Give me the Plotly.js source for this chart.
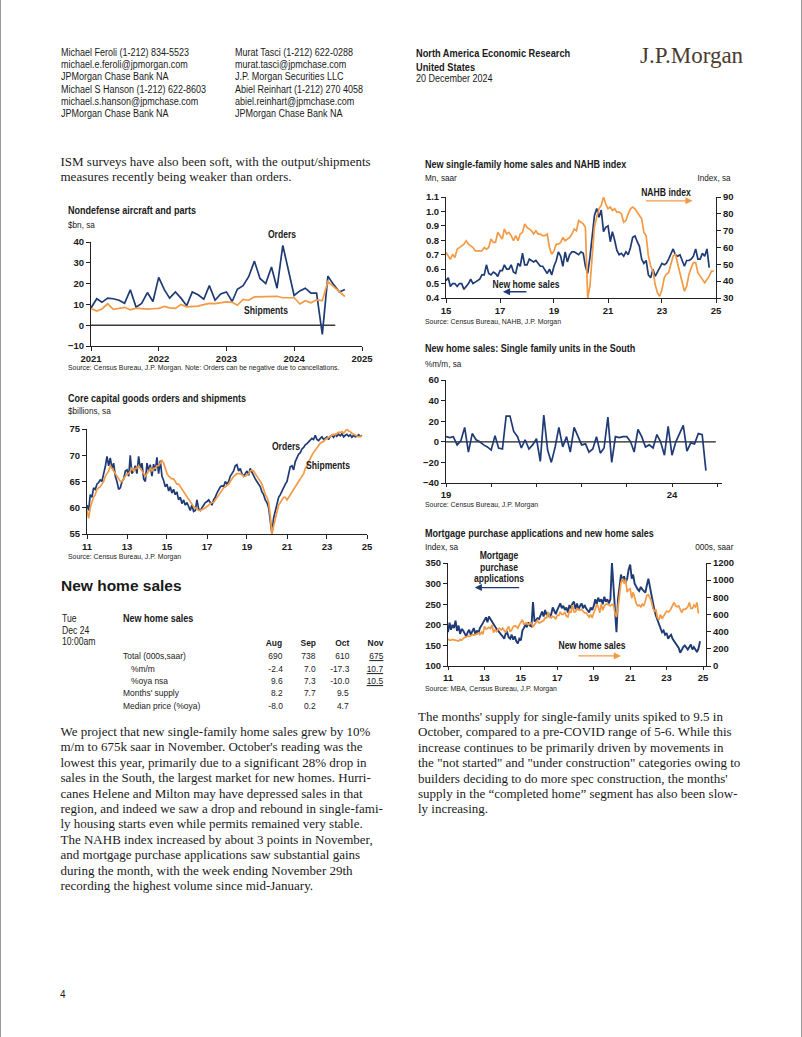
<!DOCTYPE html>
<html><head><meta charset="utf-8">
<script src="https://cdn.plot.ly/plotly-3.0.1.min.js"></script>
<style>
body{margin:0;background:#fff;}
#page{position:relative;width:802px;height:1037px;overflow:hidden;background:#fff;}
.t{position:absolute;white-space:nowrap;line-height:1;color:#1a1a1a;}
.edge{position:absolute;top:0;width:1px;height:1037px;background:#9a9a9a;}
</style></head><body><div id="page"><div class="edge" style="left:0"></div><div class="edge" style="left:801px"></div></div>
<script>
// ---------------- DATA ----------------
const aircraftOrders = [8.3,12.7,11.0,13.0,12.7,12.0,10.5,17.0,8.7,10.5,15.7,11.4,
 23.0,17.0,13.0,16.0,13.0,9.4,16.0,14.6,12.5,19.0,12.0,15.0,
 16.0,11.4,17.3,19.0,23.3,30.8,22.5,20.0,28.0,17.8,38.4,26.0,
 14.3,16.5,17.8,15.4,15.4,-4.4,23.6,19.5,16.0,17.2];
const aircraftShipments = [8.0,6.8,7.8,10.3,7.6,8.3,8.6,7.4,8.2,8.0,7.7,7.9,
 8.1,9.0,8.3,8.1,10.0,8.8,8.9,9.2,9.9,10.5,10.4,10.8,
 11.2,11.0,9.6,12.4,12.0,13.6,13.6,13.7,13.6,13.9,13.2,13.3,
 13.2,10.2,11.8,10.8,12.2,11.8,21.0,18.5,16.0,13.8];

const coreOrders = [
 60.5,59.5,62.5,62.0,63.8,63.5,64.5,64.8,65.3,65.0,66.5,67.8,
 69.8,68.0,69.5,67.5,68.5,66.0,65.0,63.5,63.8,65.0,65.5,67.0,
 67.2,66.0,70.0,66.5,67.0,68.0,66.5,69.8,67.5,68.5,65.5,65.0,
 68.5,67.0,68.2,66.0,68.3,67.0,69.6,66.5,69.0,66.0,65.2,64.0,
 64.5,63.2,64.0,62.8,63.5,62.5,63.0,61.5,62.0,60.8,61.5,60.5,
 61.0,60.0,59.5,60.5,59.3,59.5,61.5,59.8,59.5,60.0,60.5,61.0,
 61.2,61.5,61.0,60.5,61.5,62.0,62.8,63.5,64.0,64.2,64.0,65.0,
 64.5,65.0,66.0,66.5,67.0,68.0,68.2,67.0,67.5,66.5,66.0,66.5,
 67.0,66.2,67.5,66.8,66.0,65.5,65.0,64.5,64.0,63.0,62.5,61.5,
 61.0,60.0,57.5,55.0,58.0,59.5,61.0,62.0,62.5,63.2,64.0,64.5,
 65.0,66.5,67.8,68.0,67.2,68.8,69.5,70.2,70.5,71.2,71.5,72.0,
 72.2,72.5,72.8,73.2,73.0,73.8,73.0,72.8,73.2,73.5,73.0,73.2,
 73.5,73.0,73.6,73.8,73.4,73.9,73.6,74.0,73.7,74.1,73.5,73.8,
 74.0,73.6,73.9,73.4,73.8,73.5,73.6,73.9,73.6,73.8];
const coreShipments = [
 59.5,58.0,60.0,61.0,62.0,62.5,63.5,63.8,64.0,64.5,65.0,66.0,
 66.5,67.0,68.0,67.5,67.0,66.5,66.0,65.5,65.0,65.0,65.5,66.0,
 66.5,66.5,67.0,67.5,67.0,67.5,67.5,68.0,67.5,67.0,66.5,66.0,
 66.5,67.0,67.5,67.0,67.5,67.5,68.0,68.0,68.5,69.0,68.5,67.5,
 66.5,66.0,65.8,65.5,65.5,65.0,64.5,64.5,64.0,63.5,63.0,62.5,
 62.0,61.5,61.0,60.5,60.2,60.0,59.8,59.5,59.5,59.6,59.8,60.0,
 60.2,60.5,60.8,61.0,61.0,61.5,62.0,62.5,63.0,63.5,63.8,64.0,
 64.2,64.5,65.0,65.5,66.0,66.2,66.5,66.5,66.5,66.3,66.0,66.0,
 66.2,66.5,67.0,67.2,67.0,66.5,66.0,65.5,65.0,64.5,63.5,62.5,
 62.0,61.0,58.5,55.0,56.5,58.0,59.5,60.5,61.0,61.5,62.0,62.0,
 61.5,62.0,62.5,63.0,63.5,64.0,64.5,65.0,65.5,66.0,66.5,67.5,
 68.0,68.8,69.5,70.0,70.5,71.0,71.5,72.0,72.3,72.5,72.6,73.0,
 73.2,73.5,73.6,73.8,74.0,73.9,74.2,74.4,74.3,74.5,74.2,74.6,
 75.0,74.6,74.5,74.2,74.0,73.8,73.6,73.5,73.6,73.7];

// New home sales, 000s saar, monthly from Jan 2011
const homeSales = [
 315,300,300,310,305,300,295,290,310,300,320,335,
 335,350,345,350,365,360,365,370,385,365,395,370,
 460,430,440,450,435,480,390,420,400,430,440,420,
 440,420,390,430,460,400,420,460,470,460,440,480,
 520,540,480,500,500,480,500,500,460,480,500,530,
 500,510,520,530,560,560,630,570,560,580,570,550,
 590,590,630,600,600,630,580,570,640,620,710,630,
 630,670,660,650,660,640,620,620,590,570,600,560,
 620,660,720,690,620,720,650,700,720,720,710,700,
 720,710,620,570,680,830,970,1020,960,1010,860,890,
 900,790,860,800,730,700,710,690,720,700,750,820,
 830,790,760,670,640,660,560,540,600,550,580,620,
 640,630,640,670,700,740,700,690,700,660,620,660,
 660,670,690,740,670,670,710,690,740,610];
// NAHB index, monthly from Jan 2015
const nahbIndex = [
 57,55,53,56,54,59,60,61,62,64,62,61,
 60,58,58,58,58,60,59,60,65,63,63,69,
 67,65,71,68,69,67,64,67,64,68,69,74,
 72,71,70,68,70,68,68,67,67,68,60,56,
 58,62,62,63,66,64,65,66,68,71,70,76,
 75,74,72,30,37,58,72,78,83,85,90,86,
 83,84,82,83,81,81,80,75,76,80,83,84,
 83,81,79,77,69,67,55,49,46,38,33,31,
 35,42,44,45,50,55,56,50,45,40,34,37,
 44,48,51,51,45,43,41,39,41,43,46,46];
// South single-family new home sales, %m/m, monthly from Jan 2019
const southMoM = [5,4,5,-3,1,14,-10,8,2,0,-3,-5,-8,6,-6,-7,25,25,10,5,
 -6,2,-7,-3,3,-19,26,-8,-20,-5,14,-5,5,-10,14,5,-3,-2,-10,-7,
 5,-11,-6,24,-20,5,4,5,5,0,-10,12,5,-5,-3,-6,7,0,-13,15,
 -13,0,8,16,-9,-1,-2,8,7,-28];
// MBA purchase index, from Jan 2011
const mortgageApps = [
 182,205,188,200,192,210,185,198,178,190,186,178,
 172,182,188,176,184,192,178,186,180,192,198,205,
 212,218,206,220,214,208,200,196,190,186,180,176,
 172,166,178,182,170,166,176,164,172,160,155,166,
 162,186,192,200,194,206,198,196,255,208,212,216,
 214,226,232,220,236,224,230,218,226,242,232,226,
 236,244,252,240,246,236,242,230,248,240,252,256,
 238,252,236,246,252,240,248,240,234,230,242,236,
 246,262,250,266,256,262,250,268,256,262,252,262,
 350,290,232,182,262,300,322,306,318,302,312,334,
 346,312,322,300,292,286,282,292,286,282,278,296,
 312,292,272,260,236,222,212,200,190,182,186,176,
 180,166,172,176,166,160,156,150,144,132,140,146,
 150,146,140,146,152,140,146,140,134,142,160];

const tableCols = ['Aug','Sep','Oct','Nov'];
const tableRows = [
 {label:'Total (000s,saar)', indent:false, vals:['690','738','610','675']},
 {label:'%m/m', indent:true, vals:['-2.4','7.0','-17.3','10.7']},
 {label:'%oya nsa', indent:true, vals:['9.6','7.3','-10.0','10.5']},
 {label:"Months' supply", indent:false, vals:['8.2','7.7','9.5','']},
 {label:'Median price (%oya)', indent:false, vals:['-8.0','0.2','4.7','']}
];

// ---------------- STYLE ----------------
const SANS = "'Liberation Sans',Arial,sans-serif";
const SERIF = "'Liberation Serif','Times New Roman',serif";
const BLUE = '#1f3b75', ORANGE = '#f39a45', INK = '#1a1a1a';
const NARROW = 0.86;
const page = document.getElementById('page');

// x,y = anchor point in page px (y = text middle). o.align: left|right|center; o.sx: horizontal condense
function T(x, y, s, o) {
  o = o || {};
  const d = document.createElement('div');
  d.className = 't';
  d.textContent = s;
  const sx = o.sx || 1, al = o.align || 'left';
  d.style.top = y + 'px';
  if (al === 'right') {
    d.style.right = (802 - x) + 'px';
    d.style.transformOrigin = 'right center';
    d.style.transform = `translateY(-50%) scaleX(${sx})`;
  } else if (al === 'center') {
    d.style.left = x + 'px';
    d.style.transformOrigin = 'center center';
    d.style.transform = `translate(-50%,-50%) scaleX(${sx})`;
  } else {
    d.style.left = x + 'px';
    d.style.transformOrigin = 'left center';
    d.style.transform = `translateY(-50%) scaleX(${sx})`;
  }
  d.style.fontFamily = o.family || SANS;
  d.style.fontSize = (o.size || 10) + 'px';
  if (o.bold) d.style.fontWeight = 'bold';
  if (o.color) d.style.color = o.color;
  if (o.underline) d.style.textDecoration = 'underline';
  page.appendChild(d);
  return d;
}
const N = (x, y, s, o) => T(x, y, s, Object.assign({sx: NARROW}, o || {}));

function monthDates(y, m, n) {
  const out = [];
  for (let i = 0; i < n; i++) {
    const k = m - 1 + i;
    out.push((y + Math.floor(k / 12)) + '-' + String(k % 12 + 1).padStart(2, '0') + '-01');
  }
  return out;
}
function yearTicks(y0, y1, step, fmt) {
  const v = [], t = [];
  for (let y = y0; y <= y1; y += step) { v.push(y + '-01-01'); t.push(fmt(y)); }
  return {v, t};
}

const tickFont = {family: SANS, size: 9.5, color: INK, weight: 'bold'};
function axis(extra) {
  return Object.assign({showline: true, linecolor: '#222', linewidth: 1, ticks: 'outside', ticklen: 4,
    tickcolor: '#222', tickwidth: 1, showgrid: false, zeroline: false, tickfont: tickFont, fixedrange: true}, extra);
}

function makeChart(box, m, traces, axes, arrows, shapes) {
  const div = document.createElement('div');
  div.style.cssText = `position:absolute;left:${box.x}px;top:${box.y}px;width:${box.w}px;height:${box.h}px;`;
  page.appendChild(div);
  const pw = box.w - m.l - m.r, ph = box.h - m.t - m.b;
  const px = X => (X - box.x - m.l) / pw, py = Y => 1 - (Y - box.y - m.t) / ph;
  const anns = (arrows || []).map(a => ({xref: 'paper', yref: 'paper', x: px(a.hx), y: py(a.hy),
    ax: a.tx - a.hx, ay: a.ty - a.hy, text: '', showarrow: true, arrowhead: 2, arrowsize: 1.1,
    arrowwidth: 1.3, arrowcolor: a.color}));
  const layout = Object.assign({width: box.w, height: box.h, margin: {l: m.l, r: m.r, t: m.t, b: m.b, pad: 0},
    paper_bgcolor: 'rgba(0,0,0,0)', plot_bgcolor: 'rgba(0,0,0,0)', showlegend: false,
    annotations: anns, shapes: shapes || []}, axes);
  Plotly.newPlot(div, traces, layout, {staticPlot: true, displayModeBar: false});
}
const line = (x, y, color, extra) => Object.assign({type: 'scatter', mode: 'lines', x, y,
  line: {color, width: 1.7}, hoverinfo: 'skip'}, extra || {});
function chartTexts(title, unit, source, tx, ty, uy, sy, rightUnit) {
  N(tx, ty, title, {size: 10.5, bold: true});
  N(tx, uy, unit, {size: 9.5});
  if (rightUnit) N(rightUnit.x, uy, rightUnit.text, {size: 9.5, align: 'right'});
  N(tx, sy, source, {size: 8});
}
const label = (x, y, s) => N(x, y, s, {size: 10, bold: true, align: 'center'});

// ---------------- HEADER ----------------
const hdr1 = ['Michael Feroli  (1-212) 834-5523','michael.e.feroli@jpmorgan.com','JPMorgan Chase Bank NA',
  'Michael S Hanson  (1-212) 622-8603','michael.s.hanson@jpmchase.com','JPMorgan Chase Bank NA'];
const hdr2 = ['Murat Tasci  (1-212) 622-0288','murat.tasci@jpmchase.com','J.P. Morgan Securities LLC',
  'Abiel Reinhart  (1-212) 270 4058','abiel.reinhart@jpmchase.com','JPMorgan Chase Bank NA'];
const hdrY = [53, 65, 77, 90, 102, 114];
hdr1.forEach((s, i) => T(61, hdrY[i], s, {size: 10, sx: 0.9}));
hdr2.forEach((s, i) => T(235, hdrY[i], s, {size: 10, sx: 0.9}));
T(416, 53, 'North America Economic Research', {size: 10.5, bold: true, sx: 0.88});
T(416, 67, 'United States', {size: 10.5, bold: true, sx: 0.88});
T(416, 79, '20 December 2024', {size: 10, sx: 0.9});
T(640, 55, 'J.P.Morgan', {family: SERIF, size: 23, color: '#4a3a2e'});

// ---------------- BODY TEXT ----------------
const ismLines = ['ISM surveys have also been soft, with the output/shipments','measures recently being weaker than orders.'];
ismLines.forEach((s, i) => T(60.5, 160.5 + i * 15.4, s, {family: SERIF, size: 13}));

const leftPara = ['We project that new single-family home sales grew by 10%',
 "m/m to 675k saar in November. October's reading was the",
 'lowest this year, primarily due to a significant 28% drop in',
 'sales in the South, the largest market for new homes. Hurri-',
 'canes Helene and Milton may have depressed sales in that',
 'region, and indeed we saw a drop and rebound in single-fami-',
 'ly housing starts even while permits remained very stable.',
 'The NAHB index increased by about 3 points in November,',
 'and mortgage purchase applications saw substantial gains',
 'during the month, with the week ending November 29th',
 'recording the highest volume since mid-January.'];
leftPara.forEach((s, i) => T(60.5, 731 + i * 15.4, s, {family: SERIF, size: 13}));

const rightPara = ["The months' supply for single-family units spiked to 9.5 in",
 'October, compared to a pre-COVID range of 5-6. While this',
 'increase continues to be primarily driven by movements in',
 'the "not started" and "under construction" categories owing to',
 "builders deciding to do more spec construction, the months'",
 'supply in the \u201Ccompleted home\u201D segment has also been slow-',
 'ly increasing.'];
rightPara.forEach((s, i) => T(418, 716 + i * 15.4, s, {family: SERIF, size: 13}));

T(60, 995, '4', {size: 10});

// ---------------- TABLE ----------------
T(61, 586, 'New home sales', {size: 15.5, bold: true});
N(61.5, 619, 'Tue', {size: 10});
N(61.5, 630.5, 'Dec 24', {size: 10});
N(61.5, 642, '10:00am', {size: 10});
N(122.5, 617.5, 'New home sales', {size: 10.5, bold: true});
const colRight = [282.5, 315.5, 349, 383.5];
tableCols.forEach((c, j) => N(colRight[j], 643.3, c, {size: 9.8, bold: true, align: 'right'}));
const rowY = [656, 668.5, 681, 693.3, 706];
tableRows.forEach((r, i) => {
  N(r.indent ? 131 : 122.5, rowY[i], r.label, {size: 9.8});
  r.vals.forEach((v, j) => { if (v) N(colRight[j], rowY[i], v, {size: 9.8, align: 'right', underline: j === 3}); });
});

// ---------------- CHART 1: Nondefense aircraft ----------------
(function () {
  const box = {x: 55, y: 195, w: 320, h: 180};
  const m = {l: 36, r: 13, t: 46.5, b: 28.5};
  const tk = yearTicks(2021, 2025, 1, y => String(y));
  makeChart(box, m,
    [line(monthDates(2021, 1, aircraftOrders.length), aircraftOrders, BLUE),
     line(monthDates(2021, 1, aircraftShipments.length), aircraftShipments, ORANGE)],
    {xaxis: axis({type: 'date', range: ['2021-01-01', '2025-01-01'], tickmode: 'array', tickvals: tk.v, ticktext: tk.t}),
     yaxis: axis({range: [-10, 40], tickmode: 'linear', tick0: -10, dtick: 10})},
    [],
    [{type: 'line', xref: 'x', yref: 'y', x0: '2021-01-01', x1: '2024-08-10', y0: 0, y1: 0, line: {color: '#3a3a3a', width: 1.6}, layer: 'below'}]);
  chartTexts('Nondefense aircraft and parts', '$bn, sa',
    'Source: Census Bureau, J.P. Morgan. Note: Orders can be negative due to cancellations.', 68, 210, 225, 368.3);
  label(282, 235, 'Orders');
  label(265.5, 310.5, 'Shipments');
})();

// ---------------- CHART 2: Core capital goods ----------------
(function () {
  const box = {x: 55, y: 385, w: 320, h: 180};
  const m = {l: 32, r: 8.3, t: 44.3, b: 31};
  const tk = yearTicks(2011, 2025, 2, y => String(y % 100));
  makeChart(box, m,
    [line(monthDates(2011, 1, coreOrders.length), coreOrders, BLUE),
     line(monthDates(2011, 1, coreShipments.length), coreShipments, ORANGE)],
    {xaxis: axis({type: 'date', range: ['2011-01-01', '2025-01-01'], tickmode: 'array', tickvals: tk.v, ticktext: tk.t}),
     yaxis: axis({range: [55, 75], tickmode: 'linear', tick0: 55, dtick: 5})});
  chartTexts('Core capital goods orders and shipments', '$billions, sa',
    'Source: Census Bureau, J.P. Morgan', 68, 397.7, 411, 556.7);
  label(286, 447.3, 'Orders');
  label(327.5, 466, 'Shipments');
})();

// ---------------- CHART 3: New home sales & NAHB ----------------
(function () {
  const box = {x: 415, y: 150, w: 325, h: 180};
  const m = {l: 31, r: 23.5, t: 46.7, b: 31.7};
  const tk = yearTicks(2015, 2025, 2, y => String(y % 100));
  const sales15 = homeSales.slice(48).map(v => v / 1000);
  makeChart(box, m,
    [line(monthDates(2015, 1, nahbIndex.length), nahbIndex, ORANGE, {yaxis: 'y2'}),
     line(monthDates(2015, 1, sales15.length), sales15, BLUE)],
    {xaxis: axis({type: 'date', range: ['2015-01-01', '2025-01-01'], tickmode: 'array', tickvals: tk.v, ticktext: tk.t}),
     yaxis: axis({range: [0.4, 1.1], tickmode: 'linear', tick0: 0.4, dtick: 0.1, tickformat: '.1f'}),
     yaxis2: axis({range: [30, 90], tickmode: 'linear', tick0: 30, dtick: 10, overlaying: 'y', side: 'right'})},
    [{hx: 693, hy: 200.5, tx: 645, ty: 200.5, color: ORANGE},
     {hx: 503, hy: 292, tx: 528, ty: 292, color: BLUE}]);
  chartTexts('New single-family home sales and NAHB index', 'Mn, saar',
    'Source: Census Bureau, NAHB, J.P. Morgan', 425, 164, 178.3, 321.7, {x: 731, text: 'Index, sa'});
  label(666, 193, 'NAHB index');
  label(526, 285, 'New home sales');
})();

// ---------------- CHART 4: South ----------------
(function () {
  const box = {x: 415, y: 340, w: 320, h: 160};
  const m = {l: 31, r: 13.3, t: 40, b: 16.7};
  const tk = yearTicks(2019, 2025, 1, y => (y === 2019 || y === 2024) ? String(y % 100) : '');
  makeChart(box, m,
    [line(monthDates(2019, 1, southMoM.length), southMoM, BLUE)],
    {xaxis: axis({type: 'date', range: ['2019-01-01', '2025-02-08'], tickmode: 'array', tickvals: tk.v, ticktext: tk.t, ticklen: 3}),
     yaxis: axis({range: [-40, 60], tickmode: 'linear', tick0: -40, dtick: 20})},
    [],
    [{type: 'line', xref: 'x', yref: 'y', x0: '2019-01-01', x1: '2024-12-20', y0: 0, y1: 0, line: {color: '#222', width: 1.2}, layer: 'below'}]);
  chartTexts('New home sales: Single family units in the South', '%m/m, sa',
    'Source: Census Bureau, J.P. Morgan', 425, 348.3, 364, 504.5);
})();

// ---------------- CHART 5: Mortgage apps ----------------
(function () {
  const box = {x: 415, y: 520, w: 325, h: 163};
  const m = {l: 33.3, r: 34, t: 43.3, b: 17.3};
  const tk = yearTicks(2011, 2025, 2, y => String(y % 100));
  makeChart(box, m,
    [line(monthDates(2011, 1, mortgageApps.length), mortgageApps, BLUE, {line: {color: BLUE, width: 1.9}}),
     line(monthDates(2011, 1, homeSales.length), homeSales, ORANGE, {yaxis: 'y2'})],
    {xaxis: axis({type: 'date', range: ['2011-01-01', '2025-03-01'], tickmode: 'array', tickvals: tk.v, ticktext: tk.t, ticklen: 3}),
     yaxis: axis({range: [100, 350], tickmode: 'linear', tick0: 100, dtick: 50}),
     yaxis2: axis({range: [0, 1200], tickmode: 'linear', tick0: 0, dtick: 200, overlaying: 'y', side: 'right'})},
    [{hx: 475, hy: 587.7, tx: 521, ty: 587.7, color: BLUE},
     {hx: 621, hy: 655.7, tx: 577, ty: 655.7, color: ORANGE}]);
  chartTexts('Mortgage purchase applications and new home sales', 'Index, sa',
    'Source: MBA, Census Bureau, J.P. Morgan', 425, 532.7, 546.7, 688.5, {x: 733, text: '000s, saar'});
  label(499, 556, 'Mortgage');
  label(499, 567.7, 'purchase');
  label(499, 579, 'applications');
  label(592, 646, 'New home sales');
})();
</script></body></html>
